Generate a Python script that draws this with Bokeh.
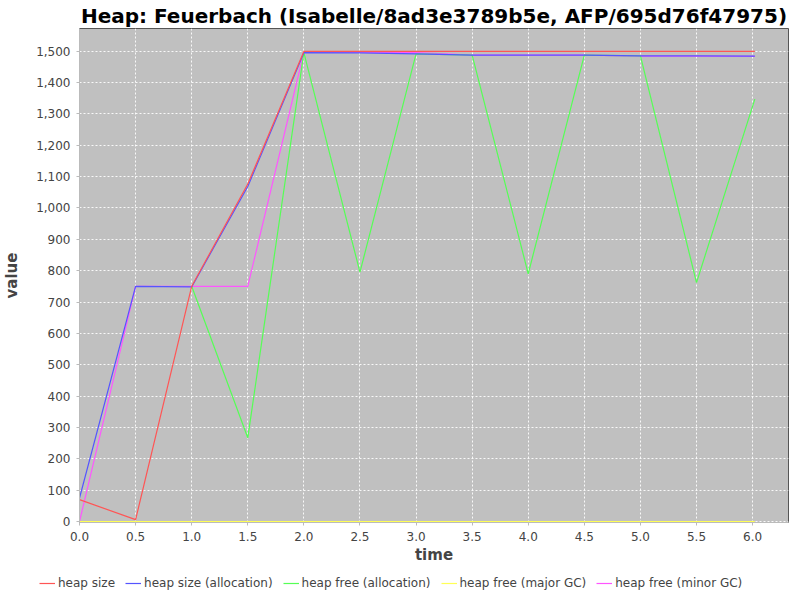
import numpy as np
from bokeh.plotting import figure
from bokeh.layouts import column
from bokeh.models import Range1d, Legend, LegendItem, NumeralTickFormatter, SingleIntervalTicker
from bokeh.embed import file_html
from bokeh.resources import INLINE

time = [0.0, 0.5, 1.0, 1.5, 2.0, 2.5, 3.0, 3.5, 4.0, 4.5, 5.0, 5.5, 6.02]
heap_size = [70, 6, 750, 1076, 1499, 1499, 1499, 1499, 1499, 1499, 1499, 1499, 1499]
heap_size_alloc = [75, 750, 748, 1068, 1495, 1494, 1491, 1487, 1487, 1487, 1485, 1485, 1484]
heap_free_alloc = [np.nan, np.nan, 750, 267, 1495, 795, 1491, 1487, 790, 1487, 1485, 762, 1347]
heap_free_major = [0, 0, 0, 0, 0, 0, 0, 0, 0, 0, 0, 0, 0]
heap_free_minor = [0, 750, 750, 750, 1496, 1496, 1495, 1487, 1487, 1487, 1484, 1484, 1483]

series = [
    ("heap size", heap_size, "#ff5555"),
    ("heap size (allocation)", heap_size_alloc, "#5555ff"),
    ("heap free (allocation)", heap_free_alloc, "#55ff55"),
    ("heap free (major GC)", heap_free_major, "#ffff55"),
    ("heap free (minor GC)", heap_free_minor, "#ff55ff"),
]

p = figure(frame_width=709, frame_height=494, output_backend="svg", toolbar_location=None,
           x_range=Range1d(0, 6.32), y_range=Range1d(-3, 1572),
           min_border_left=75, min_border_right=4, min_border_top=10, min_border_bottom=52)

p.title.text = "Heap: Feuerbach (Isabelle/8ad3e3789b5e, AFP/695d76f47975)"
p.title.text_font = "DejaVu Sans"
p.title.text_font_size = "20px"
p.title.text_font_style = "bold"
p.title.align = "center"
p.title.offset = -33
p.title.standoff = 2
p.title.text_color = "#000000"

p.background_fill_color = "#c0c0c0"
p.border_fill_color = "white"
p.outline_line_color = "#555555"
p.outline_line_width = 1

for g in (p.xgrid, p.ygrid):
    g.grid_line_color = "white"
    g.grid_line_dash = "2 2"
    g.grid_line_alpha = 0.9

p.xaxis.ticker = SingleIntervalTicker(interval=0.5)
p.yaxis.ticker = SingleIntervalTicker(interval=100)
p.xaxis.formatter = NumeralTickFormatter(format="0.0")
p.yaxis.formatter = NumeralTickFormatter(format="0,0")

for ax in (p.xaxis, p.yaxis):
    ax.axis_line_color = "#bbbbbb"
    ax.major_tick_line_color = "#bbbbbb"
    ax.major_tick_out = 3
    ax.major_tick_in = 0
    ax.minor_tick_line_color = None
    ax.major_label_text_font = "DejaVu Sans"
    ax.major_label_text_font_size = "12px"
    ax.major_label_text_color = "#444444"
    ax.axis_label_text_font = "DejaVu Sans"
    ax.axis_label_text_font_size = "15px"
    ax.axis_label_text_font_style = "bold"
    ax.axis_label_text_color = "#444444"

p.xaxis.axis_label = "time"
p.yaxis.axis_label = "value"
p.xaxis.axis_label_standoff = 2
p.yaxis.axis_label_standoff = 12

# first series on top, as in the original chart
for name, vals, color in reversed(series):
    p.line(time, vals, line_color=color, line_width=1.2)

# legend strip below the chart
lg = figure(width=784, height=18, output_backend="svg", toolbar_location=None,
            x_range=Range1d(0, 1), y_range=Range1d(0, 1),
            x_axis_location=None, y_axis_location=None,
            min_border=0, min_border_left=0, min_border_right=0,
            min_border_top=0, min_border_bottom=0)
lg.grid.visible = False
lg.outline_line_color = None
lg.background_fill_color = "white"
lg.border_fill_color = "white"

legend_x = 1
try:
    lg.frame_align = False
    p.frame_align = False
    legend_x = 39
except Exception:
    legend_x = 1

items = []
for name, vals, color in series:
    r = lg.line([-10, -9], [-10, -9], line_color=color, line_width=1.2)
    items.append(LegendItem(label=name, renderers=[r]))

legend = Legend(items=items, orientation="horizontal", location=(legend_x, 2),
                border_line_color=None, background_fill_alpha=0,
                label_text_font="DejaVu Sans", label_text_font_size="12px",
                label_text_color="#444444", glyph_width=16, glyph_height=14,
                spacing=10, label_standoff=3, padding=0, margin=0)
lg.add_layout(legend, "center")

layout = column(p, lg, spacing=0)
open("out.html", "w").write(file_html(layout, INLINE))
